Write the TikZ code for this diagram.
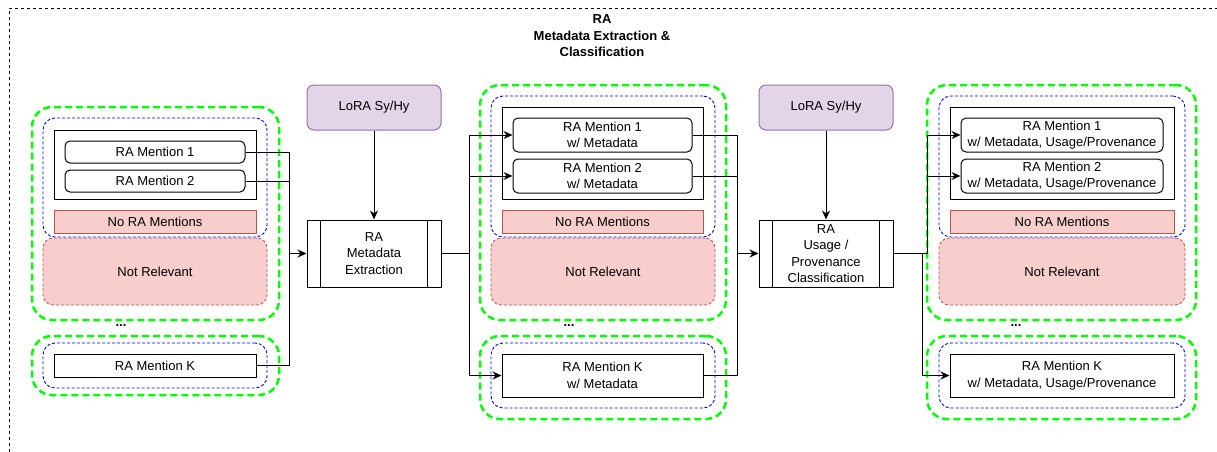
\documentclass[tikz,border=0pt]{standalone}
\usepackage{fontspec}
\setmainfont{Liberation Sans}
\usepackage{tikz}
\usetikzlibrary{arrows.meta}

\definecolor{pinkfill}{HTML}{F8CECC}
\definecolor{pinkline}{HTML}{B85450}
\definecolor{lorafill}{HTML}{E1D5E7}
\definecolor{loraline}{HTML}{9673A6}
\definecolor{grpgreen}{HTML}{00FF00}
\definecolor{grpblue}{HTML}{0000FF}

\tikzset{
  grp/.style={draw=grpgreen, line width=2.5pt, dash pattern=on 7pt off 4pt, rounded corners=20pt, inner sep=0pt},
  sub/.style={draw=grpblue, line width=0.9pt, dash pattern=on 3pt off 2pt, rounded corners=12pt, inner sep=0pt},
  kbox/.style={draw, line width=1pt, inner sep=0pt, align=center},
  mention/.style={draw, line width=1pt, rounded corners=5pt, inner sep=0pt, align=center},
  norm/.style={draw=pinkline, fill=pinkfill, line width=1pt, inner sep=0pt},
  notrel/.style={draw=pinkline, fill=pinkfill, line width=0.8pt, dash pattern=on 3pt off 2pt, rounded corners=10pt, inner sep=0pt},
  lora/.style={draw=loraline, fill=lorafill, line width=1pt, rounded corners=7pt, inner sep=0pt, minimum width=134pt, minimum height=45pt},
  proc/.style={draw, line width=1pt, inner sep=0pt, align=center, minimum width=134pt, minimum height=67pt},
}

\begin{document}
\begin{tikzpicture}[x=1pt, y=-1pt, font=\fontsize{13}{16.5}\selectfont, line width=1pt]
      \useasboundingbox (0,0) rectangle (1217,452);
      \draw[line width=0.8pt, dash pattern=on 3pt off 3pt] (9,452) -- (9,8) -- (1217,8);

      \node[font=\fontsize{13}{16.5}\selectfont\bfseries, align=center] (T) at (602,36) {RA\\Metadata Extraction \&\\Classification};

      % input mentions
      \node[grp, minimum width=247pt, minimum height=213pt] (gL1) at (155.5,213.5) {};
      \node[sub, minimum width=224pt, minimum height=119pt] (bL1) at (155,177.5) {};
      \node[kbox, minimum width=202pt, minimum height=69pt] (kL1) at (155,164.5) {};
      \node[mention, minimum width=180pt, minimum height=22pt] (mL1) at (155,152) {RA Mention 1};
      \node[mention, minimum width=180pt, minimum height=22pt] (mL2) at (155,181) {RA Mention 2};
      \node[norm, minimum width=202pt, minimum height=23pt] (nL) at (155,221.5) {No RA Mentions};
      \node[notrel, minimum width=224pt, minimum height=67pt] (rL) at (155,271.5) {Not Relevant};
      \node (dL) at (121,326) {\textbf{...}};
      \node[grp, minimum width=247pt, minimum height=59pt] (gL2) at (155.5,365.5) {};
      \node[sub, minimum width=224pt, minimum height=45pt] (bL2) at (155,365.5) {};
      \node[kbox, minimum width=202pt, minimum height=23pt] (mLK) at (155,365.5) {RA Mention K};

      % metadata extraction
      \node[lora] (lo1) at (374,107.5) {LoRA Sy/Hy};
      \node[proc] (p1) at (374,253.5) {RA\\Metadata\\Extraction};
      \draw ([xshift=14pt]p1.north west) -- ([xshift=14pt]p1.south west);
      \draw ([xshift=-14pt]p1.north east) -- ([xshift=-14pt]p1.south east);

      % mentions with metadata
      \node[grp, minimum width=246pt, minimum height=235pt] (gM1) at (603,202.5) {};
      \node[sub, minimum width=224pt, minimum height=141pt] (bM1) at (603,166.5) {};
      \node[kbox, minimum width=201pt, minimum height=92pt] (kM1) at (602.5,153) {};
      \node[mention, minimum width=179pt, minimum height=34pt] (mM1) at (602.5,135) {RA Mention 1\\w/ Metadata};
      \node[mention, minimum width=179pt, minimum height=34pt] (mM2) at (602.5,176) {RA Mention 2\\w/ Metadata};
      \node[norm, minimum width=201pt, minimum height=23pt] (nM) at (602.5,221.5) {No RA Mentions};
      \node[notrel, minimum width=224pt, minimum height=67pt] (rM) at (603,271.5) {Not Relevant};
      \node (dM) at (569,326) {\textbf{...}};
      \node[grp, minimum width=246pt, minimum height=83pt] (gM2) at (603,377.5) {};
      \node[sub, minimum width=224pt, minimum height=65pt] (bM2) at (603,375.5) {};
      \node[kbox, minimum width=201pt, minimum height=43pt] (mMK) at (602.5,375.5) {RA Mention K\\w/ Metadata};

      % usage / provenance classification
      \node[lora] (lo2) at (826,107.5) {LoRA Sy/Hy};
      \node[proc] (p2) at (826,253.5) {RA\\Usage /\\Provenance\\Classification};
      \draw ([xshift=14pt]p2.north west) -- ([xshift=14pt]p2.south west);
      \draw ([xshift=-14pt]p2.north east) -- ([xshift=-14pt]p2.south east);

      % classified mentions
      \node[grp, minimum width=269pt, minimum height=235pt] (gR1) at (1061.5,202.5) {};
      \node[sub, minimum width=246pt, minimum height=141pt] (bR1) at (1062,166.5) {};
      \node[kbox, minimum width=224pt, minimum height=92pt] (kR1) at (1062,153) {};
      \node[mention, minimum width=202pt, minimum height=34pt] (mR1) at (1062,135) {RA Mention 1\\w/ Metadata, Usage/Provenance};
      \node[mention, minimum width=202pt, minimum height=34pt] (mR2) at (1062,176) {RA Mention 2\\w/ Metadata, Usage/Provenance};
      \node[norm, minimum width=224pt, minimum height=23pt] (nR) at (1062,221.5) {No RA Mentions};
      \node[notrel, minimum width=246pt, minimum height=67pt] (rR) at (1062,271.5) {Not Relevant};
      \node (dR) at (1016,326) {\textbf{...}};
      \node[grp, minimum width=269pt, minimum height=83pt] (gR2) at (1061.5,377.5) {};
      \node[sub, minimum width=246pt, minimum height=65pt] (bR2) at (1062,375.5) {};
      \node[kbox, minimum width=224pt, minimum height=43pt] (mRK) at (1062,375.5) {RA Mention K\\w/ Metadata, Usage/Provenance};

      % junctions
      \coordinate (jL) at (289,253.5);
      \coordinate (jM) at (469,253.5);
      \coordinate (jO) at (737,253.5);
      \coordinate (jR) at (927,253.5);
      \coordinate (jK) at (922,253.5);

      \draw (mL1.east) -| (jL) ;
      \draw (mL2.east) -| (jL) ;
      \draw (mLK.east) -| (jL) ;
      \draw[-{Stealth[length=9pt,width=8pt]}] (jL) -- (p1.west) ;
      \draw[-{Stealth[length=9pt,width=8pt]}] (lo1) -- (p1) ;

      \draw (p1.east) -- (jM) ;
      \draw[-{Stealth[length=9pt,width=8pt]}] (jM) |- (mM1.west) ;
      \draw[-{Stealth[length=9pt,width=8pt]}] (jM) |- (mM2.west) ;
      \draw[-{Stealth[length=9pt,width=8pt]}] (jM) |- (mMK.west) ;

      \draw (mM1.east) -| (jO) ;
      \draw (mM2.east) -| (jO) ;
      \draw (mMK.east) -| (jO) ;
      \draw[-{Stealth[length=9pt,width=8pt]}] (jO) -- (p2.west) ;
      \draw[-{Stealth[length=9pt,width=8pt]}] (lo2) -- (p2) ;

      \draw (p2.east) -- (jR) ;
      \draw[-{Stealth[length=9pt,width=8pt]}] (jR) |- (mR1.west) ;
      \draw[-{Stealth[length=9pt,width=8pt]}] (jR) |- (mR2.west) ;
      \draw[-{Stealth[length=9pt,width=8pt]}] (jK) |- (mRK.west) ;
    \end{tikzpicture}
\end{document}
